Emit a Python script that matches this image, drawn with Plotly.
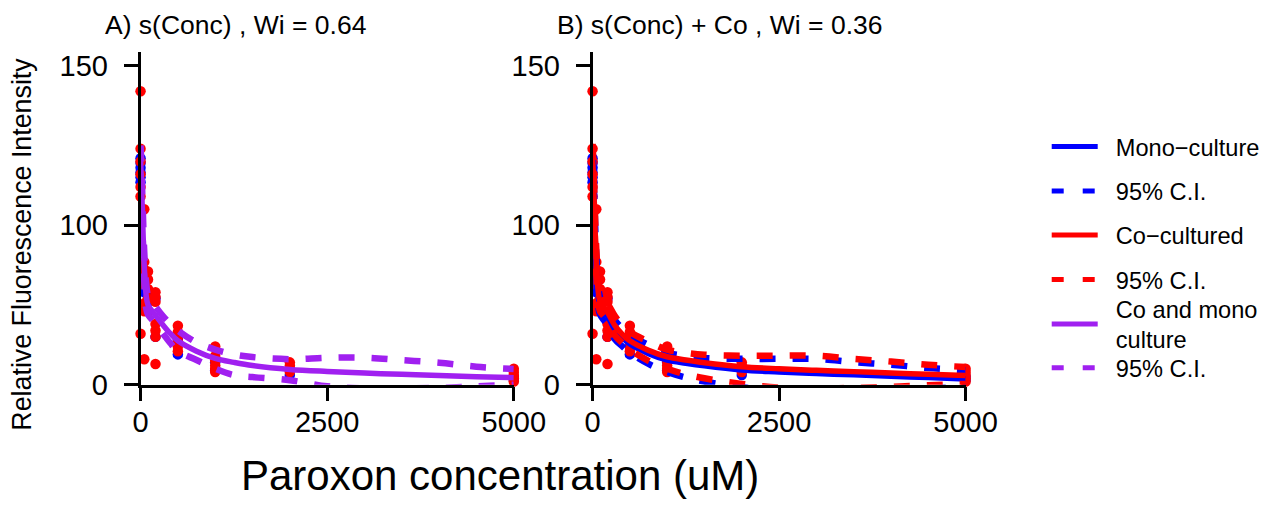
import plotly.graph_objects as go

# ---- observations: paroxon concentration (uM) vs relative fluorescence ----
mono_conc = [0, 0, 0, 0, 0, 0, 50, 50, 100, 100, 200, 200, 500, 500,
             1000, 1000, 2000, 2000, 5000, 5000]
mono_rfi = [142, 139, 136, 133, 130, 127, 62, 58, 57, 52, 54, 30, 28, 19,
            14, 9, 9, 6, 5, 3]

co_conc = [0, 0, 0, 0, 0, 0, 0,
           50, 50, 50, 50, 50, 50, 50, 50,
           100, 100, 100, 100, 100,
           200, 200, 200, 200, 200, 200, 200,
           500, 500, 500, 500, 500, 500,
           1000, 1000, 1000, 1000, 1000, 1000,
           2000, 2000, 2000, 2000,
           5000, 5000, 5000, 5000, 5000]
co_rfi = [184, 148, 140, 132, 124, 118, 32,
          110, 77, 72, 67, 63, 51, 46, 16,
          71, 66, 60, 54, 46,
          58, 55, 52, 38, 34, 30, 13,
          37, 33, 30, 27, 24, 21,
          24, 18, 15, 12, 10, 8,
          14, 12, 10, 8,
          10, 8, 6, 4, 2]

# ---- smooth fits and 95% confidence bands ----
fit_conc = [0, 10, 25, 50, 75, 100, 150, 200, 300, 400, 500, 750, 1000,
            1250, 1500, 2000, 2500, 3000, 3500, 4000, 4500, 5000]

# A) pooled model s(Conc)
pooled_fit = [141, 130, 108, 74, 56, 50, 46.5, 43.5, 37.5, 32, 27.5, 21, 16.5,
              14, 12, 9.6, 8.3, 7.3, 6.5, 5.7, 5.0, 4.4]
pooled_upr = [150, 139, 117, 83, 64, 56, 52, 49, 43, 38, 34, 26.5, 22,
              19, 17.3, 16, 16.9, 17, 15.4, 13.8, 11.3, 9.8]
pooled_lwr = [132, 121, 99, 65, 48, 44, 41, 38, 32, 26, 21, 15.5, 10,
              6, 4.8, 2.8, -1, -2.3, -2.2, -2, -1, 0]

# B) s(Conc) + Co : co-cultured and mono-culture curves
co_fit = [143, 132, 110, 77, 59, 52, 48.5, 45.5, 37, 31.5, 27.5, 21.5, 17.5,
          15.5, 13.8, 11.3, 10, 9, 8.2, 7.3, 6.5, 5.7]
co_upr = [151, 140, 118, 85, 66, 58, 54, 51, 43, 37, 33, 27, 22,
          20, 18.8, 18.2, 18.2, 18.2, 16.2, 14.5, 12.5, 11.1]
co_lwr = [135, 124, 102, 69, 52, 46, 43, 40, 31, 26, 22, 15, 10,
          6.5, 4, 0.5, -1.8, -2.3, -2, -1.3, -0.3, 0.5]

mono_fit = [139, 128, 106, 73, 56, 49.5, 46, 43, 34.5, 29.5, 25.5, 19.5, 15.5,
            13.5, 11.8, 9.2, 8, 7, 6.2, 5.3, 4.5, 3.6]
mono_upr = [147, 136, 114, 81, 63, 55, 51.5, 48.5, 40.5, 35, 31, 25, 20,
            18, 16.8, 16.2, 16.2, 16.2, 14.2, 12.5, 10.5, 9.1]
mono_lwr = [131, 120, 98, 65, 49, 44, 40.5, 37.5, 28.5, 24, 20, 13, 8,
            4.5, 2, -1.5, -3.8, -4.3, -4, -3.3, -2.3, -1.5]

y_tick_vals = [0, 100, 200]
y_tick_text = ["0", "100", "150"]
x_tick_vals = [0, 2500, 5000]

BLUE = "#0000FF"
RED = "#FF0000"
PURPLE = "#A020F0"
FONT = "Liberation Sans, Arial, sans-serif"
DASH = "16px,17px"
PAD = "\u00a0\u00a0"  # gap between legend key and its label

fig = go.Figure()


def add_points(xa, ya):
    fig.add_trace(go.Scatter(x=mono_conc, y=mono_rfi, mode="markers",
                             marker=dict(color=BLUE, size=10.5), showlegend=False,
                             cliponaxis=False, xaxis=xa, yaxis=ya))
    fig.add_trace(go.Scatter(x=co_conc, y=co_rfi, mode="markers",
                             marker=dict(color=RED, size=10.5), showlegend=False,
                             cliponaxis=False, xaxis=xa, yaxis=ya))


def add_curve(xa, ya, yv, color, dash):
    fig.add_trace(go.Scatter(
        x=fit_conc, y=yv, mode="lines", line_shape="spline",
        line=dict(color=color, width=6.5 if dash else 5.5, dash=dash),
        showlegend=False, cliponaxis=False, xaxis=xa, yaxis=ya))


# panel A
add_points("x", "y")
add_curve("x", "y", pooled_upr, PURPLE, DASH)
add_curve("x", "y", pooled_lwr, PURPLE, DASH)
add_curve("x", "y", pooled_fit, PURPLE, None)

# panel B
add_points("x2", "y2")
add_curve("x2", "y2", mono_upr, BLUE, DASH)
add_curve("x2", "y2", mono_lwr, BLUE, DASH)
add_curve("x2", "y2", mono_fit, BLUE, None)
add_curve("x2", "y2", co_upr, RED, DASH)
add_curve("x2", "y2", co_lwr, RED, DASH)
add_curve("x2", "y2", co_fit, RED, None)

# legend entries (each in its own legend box for exact placement)
legend_entries = [
    ("Mono\u2212culture", BLUE, None, "legend"),
    ("95% C.I.", BLUE, DASH, "legend2"),
    ("Co\u2212cultured", RED, None, "legend3"),
    ("95% C.I.", RED, DASH, "legend4"),
    ("Co and mono<br>" + PAD + "culture", PURPLE, None, "legend5"),
    ("95% C.I.", PURPLE, DASH, "legend6"),
]
legend_y_px = [150, 196, 241.7, 287.7, 334, 379.3]
for (label, color, dash, lg) in legend_entries:
    fig.add_trace(go.Scatter(x=[None], y=[None], mode="lines", name=PAD + label,
                             line=dict(color=color, width=5,
                                       dash="12px,19px" if dash else None),
                             legend=lg, xaxis="x2", yaxis="y2"))

W, H = 1288, 510
axis_common = dict(showgrid=False, zeroline=False, showline=True,
                   linecolor="black", linewidth=2.5, ticks="outside",
                   ticklen=14, tickwidth=2.5, tickcolor="black",
                   tickfont=dict(family=FONT, size=29, color="black"))
xaxis_common = dict(axis_common, ticklabelstandoff=-4)
yaxis_common = dict(axis_common, ticklabelstandoff=10)

legend_common = dict(xanchor="left", yanchor="middle", bgcolor="rgba(0,0,0,0)",
                     borderwidth=0, itemwidth=46,
                     font=dict(family=FONT, size=23.6, color="black"))
legends = {}
for i, ypx in enumerate(legend_y_px):
    key = "legend" if i == 0 else f"legend{i + 1}"
    legends[key] = dict(legend_common, x=1072 / W, y=1 - ypx / H)

fig.update_layout(
    width=W, height=H,
    margin=dict(l=0, r=0, t=0, b=0),
    plot_bgcolor="white", paper_bgcolor="white",
    xaxis=dict(xaxis_common, domain=[136.8 / W, 522 / W], range=[0, 5000],
               tickvals=x_tick_vals, anchor="y"),
    yaxis=dict(yaxis_common, domain=[1 - 396.7 / H, 1 - 52 / H],
               range=[0, 208.5], tickvals=y_tick_vals, ticktext=y_tick_text,
               anchor="x"),
    xaxis2=dict(xaxis_common, domain=[603.3 / W, 988.3 / W], range=[0, 5000],
                tickvals=x_tick_vals, anchor="y2"),
    yaxis2=dict(yaxis_common, domain=[1 - 396.7 / H, 1 - 52 / H],
                range=[0, 208.5], tickvals=y_tick_vals, ticktext=y_tick_text,
                anchor="x2"),
    annotations=[
        dict(text="A) s(Conc) , Wi = 0.64", x=98 / W, y=1 - 24 / H,
             xref="paper", yref="paper", xanchor="left", yanchor="middle",
             showarrow=False, font=dict(family=FONT, size=26.5, color="black")),
        dict(text="B) s(Conc) + Co , Wi = 0.36", x=565 / W, y=1 - 24 / H,
             xref="paper", yref="paper", xanchor="left", yanchor="middle",
             showarrow=False, font=dict(family=FONT, size=26.5, color="black")),
        dict(text="Relative Fluorescence Intensity", x=15 / W, y=1 - 251 / H,
             xref="paper", yref="paper", xanchor="center", yanchor="middle",
             textangle=-90, showarrow=False,
             font=dict(family=FONT, size=26.8, color="black")),
        dict(text="Paroxon concentration (uM)", x=508 / W, y=1 - 491 / H,
             xref="paper", yref="paper", xanchor="center", yanchor="middle",
             showarrow=False, font=dict(family=FONT, size=42, color="black")),
    ],
    **legends,
)

fig.write_html("out.html")
